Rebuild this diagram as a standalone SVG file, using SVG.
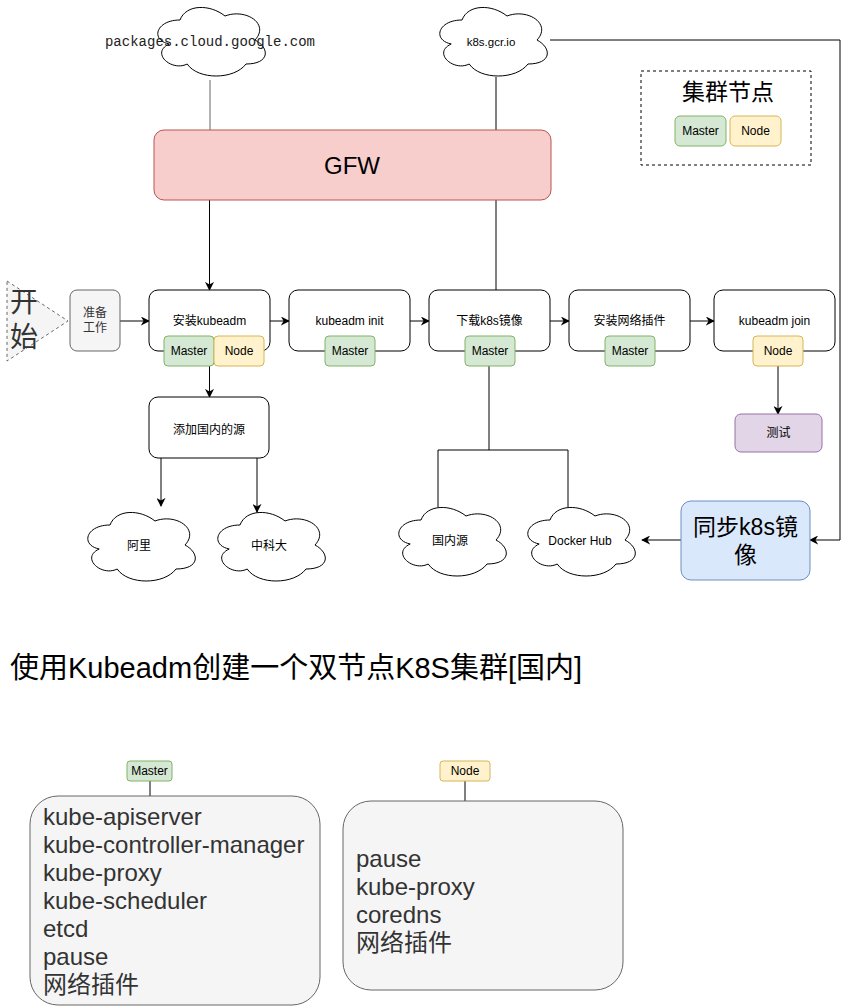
<svg xmlns="http://www.w3.org/2000/svg" width="849" height="1006" viewBox="0 0 849 1006">
<style>
text{font-family:"Liberation Sans","Noto Sans CJK SC",sans-serif;fill:#000;}
.c{text-anchor:middle;}
.s12{font-size:12px;}
.box{fill:#fff;stroke:#000;stroke-width:1;}
.gray{fill:#f5f5f5;stroke:#666;stroke-width:1;}
.m{fill:#d5e8d4;stroke:#82b366;stroke-width:1;}
.n{fill:#fff2cc;stroke:#d6b656;stroke-width:1;}
.cloud{fill:#fff;stroke:#000;stroke-width:1;}
.e{fill:none;stroke:#000;stroke-width:1;}
.ea{fill:none;stroke:#000;stroke-width:1;marker-end:url(#arr);}
.lt{font-size:24px;fill:#333;}
</style>
<defs>
<marker id="arr" viewBox="0 0 10 10" refX="9" refY="5" markerWidth="9" markerHeight="9" markerUnits="userSpaceOnUse" orient="auto">
<path d="M0,0 L10,5 L0,10 L3,5 z" fill="#000"/>
</marker>
<path id="cl" d="M30,20 C6,20 0,40 19.2,44 C0,52.8 21.6,72 37.2,64 C48,80 84,80 96,64 C120,64 120,48 105,40 C120,24 96,8 75,16 C60,4 36,4 30,20 Z"/>
</defs>

<g id="connectors">
<path class="e" d="M210,80 V130" style="stroke:#666"/>
<path class="ea" d="M209.5,200 V290"/>
<path class="e" d="M496,77 V130 M496,200 V290"/>
<path class="ea" d="M550,40 H840 V540 H810"/>
<path class="ea" d="M120,321 H149"/>
<path class="ea" d="M270,321 H289"/>
<path class="ea" d="M410,321 H429"/>
<path class="ea" d="M550,321 H569"/>
<path class="ea" d="M690,321 H714"/>
<path class="ea" d="M209.5,366 V397"/>
<path class="ea" d="M161,458 V506"/>
<path class="ea" d="M257,458 V512"/>
<path class="e" d="M489,366 V450 M438,507 V450 H568 V507"/>
<path class="ea" d="M778,366 V414"/>
<path class="ea" d="M681,540 H642"/>
<path class="e" d="M150,781 V796 M465,781 V801"/>
</g>

<g id="cloud-packages">
<use href="#cl" class="cloud" x="150" y="0"/>
<text x="210" y="46" class="c" style="font-family:'Liberation Mono',monospace;font-size:14px;fill:#222">packages.cloud.google.com</text>
</g>
<g id="cloud-k8sgcr">
<use href="#cl" class="cloud" x="432" y="0"/>
<text x="491" y="46" class="c" style="font-size:11.5px">k8s.gcr.io</text>
</g>

<g id="gfw">
<rect x="154" y="130" width="397" height="70" rx="10" style="fill:#f8cecc;stroke:#b85450"/>
<text x="352" y="174" class="c" style="font-size:24px">GFW</text>
</g>

<g id="legend">
<rect x="641" y="71" width="170" height="94" style="fill:none;stroke:#000;stroke-dasharray:3,3"/>
<text x="728" y="100" class="c" style="font-size:23px">集群节点</text>
<rect x="675" y="116" width="51" height="30" rx="5" class="m"/>
<text x="700.5" y="135" class="c s12">Master</text>
<rect x="730" y="116" width="51" height="30" rx="5" class="n"/>
<text x="755.5" y="135" class="c s12">Node</text>
</g>

<g id="start">
<polygon points="7,281 68,321 7,361" style="fill:#f5f5f5;stroke:#666;stroke-dasharray:3,3"/>
<text x="24" y="312" class="c" style="font-size:28px;fill:#333">开</text>
<text x="24" y="347" class="c" style="font-size:28px;fill:#333">始</text>
</g>

<g id="prepare">
<rect x="70" y="290" width="50" height="61" rx="7" class="gray"/>
<text x="95" y="317" class="c s12" style="fill:#333">准备</text>
<text x="95" y="332" class="c s12" style="fill:#333">工作</text>
</g>

<g id="install-kubeadm">
<rect x="149" y="290" width="121" height="61" rx="9" class="box"/>
<text x="209.5" y="325" class="c s12">安装kubeadm</text>
<rect x="164" y="336" width="50" height="30" rx="4" class="m"/>
<text x="189" y="355" class="c s12">Master</text>
<rect x="214" y="336" width="50" height="30" rx="4" class="n"/>
<text x="239" y="355" class="c s12">Node</text>
</g>

<g id="kubeadm-init">
<rect x="289" y="290" width="121" height="61" rx="9" class="box"/>
<text x="349.5" y="325" class="c s12">kubeadm init</text>
<rect x="325" y="336" width="50" height="30" rx="4" class="m"/>
<text x="350" y="355" class="c s12">Master</text>
</g>

<g id="download-images">
<rect x="429" y="290" width="121" height="61" rx="9" class="box"/>
<text x="489.5" y="325" class="c s12">下载k8s镜像</text>
<rect x="465" y="336" width="50" height="30" rx="4" class="m"/>
<text x="490" y="355" class="c s12">Master</text>
</g>

<g id="install-network">
<rect x="569" y="290" width="121" height="61" rx="9" class="box"/>
<text x="629.5" y="325" class="c s12">安装网络插件</text>
<rect x="605" y="336" width="50" height="30" rx="4" class="m"/>
<text x="630" y="355" class="c s12">Master</text>
</g>

<g id="kubeadm-join">
<rect x="714" y="290" width="121" height="61" rx="9" class="box"/>
<text x="774.5" y="325" class="c s12">kubeadm join</text>
<rect x="753" y="336" width="50" height="30" rx="4" class="n"/>
<text x="778" y="355" class="c s12">Node</text>
</g>

<g id="test">
<rect x="735" y="414" width="87" height="38" rx="6" style="fill:#e1d5e7;stroke:#9673a6"/>
<text x="778.5" y="437" class="c s12">测试</text>
</g>

<g id="add-source">
<rect x="149" y="397" width="120" height="61" rx="9" class="box"/>
<text x="209" y="434" class="c s12">添加国内的源</text>
</g>

<g id="cloud-aliyun">
<use href="#cl" class="cloud" x="80" y="505"/>
<text x="139" y="550" class="c s12">阿里</text>
</g>
<g id="cloud-ustc">
<use href="#cl" class="cloud" x="210" y="505"/>
<text x="269" y="550" class="c s12">中科大</text>
</g>
<g id="cloud-domestic">
<use href="#cl" class="cloud" x="391" y="500"/>
<text x="450" y="545" class="c s12">国内源</text>
</g>
<g id="cloud-dockerhub">
<use href="#cl" class="cloud" x="520" y="500"/>
<text x="580" y="545" class="c s12">Docker Hub</text>
</g>

<g id="sync-images">
<rect x="681" y="501" width="129" height="79" rx="10" style="fill:#dae8fc;stroke:#6c8ebf"/>
<text x="745.5" y="535" class="c" style="font-size:23px">同步k8s镜</text>
<text x="745.5" y="563" class="c" style="font-size:23px">像</text>
</g>

<g id="title">
<text x="10" y="678" style="font-size:29px">使用Kubeadm创建一个双节点K8S集群[国内]</text>
</g>

<g id="master-tag">
<rect x="127" y="761" width="45" height="20" rx="3" class="m"/>
<text x="149.5" y="775" class="c s12">Master</text>
</g>
<g id="node-tag">
<rect x="440" y="761" width="50" height="20" rx="3" class="n"/>
<text x="465" y="775" class="c s12">Node</text>
</g>

<g id="master-list">
<rect x="30" y="796" width="290" height="209" rx="28" class="gray"/>
<text x="43" y="825" class="lt">kube-apiserver</text>
<text x="43" y="853" class="lt">kube-controller-manager</text>
<text x="43" y="881" class="lt">kube-proxy</text>
<text x="43" y="909" class="lt">kube-scheduler</text>
<text x="43" y="937" class="lt">etcd</text>
<text x="43" y="965" class="lt">pause</text>
<text x="43" y="993" class="lt">网络插件</text>
</g>

<g id="node-list">
<rect x="343" y="801" width="280" height="189" rx="28" class="gray"/>
<text x="356" y="867" class="lt">pause</text>
<text x="356" y="895" class="lt">kube-proxy</text>
<text x="356" y="923" class="lt">coredns</text>
<text x="356" y="951" class="lt">网络插件</text>
</g>
</svg>
